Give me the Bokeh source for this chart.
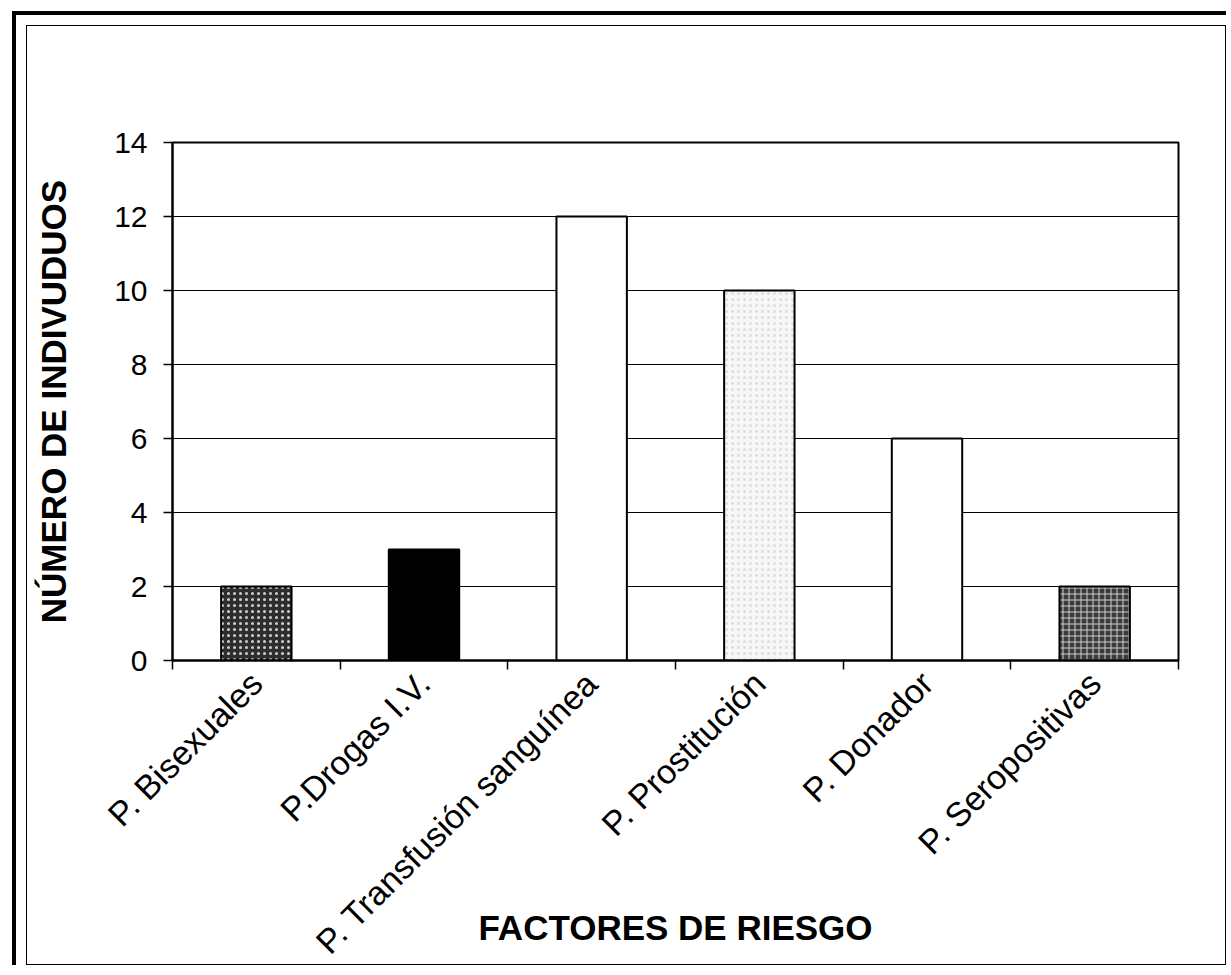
import math
from bokeh.plotting import figure
from bokeh.layouts import column
from bokeh.models import ColumnDataSource, FixedTicker, Range1d
from bokeh.embed import file_html
from bokeh.resources import INLINE

categories = ["P. Bisexuales", "P.Drogas I.V.", "P. Transfusión sanguínea",
              "P. Prostitución", "P. Donador", "P. Seropositivas"]
values = [2, 3, 12, 10, 6, 2]
fill_colors = ["#2e2e2e", "#000000", "#ffffff", "#f7f7f7", "#ffffff", "#3a3a3a"]
hatch_patterns = ["dot", " ", " ", "dot", " ", "cross"]
hatch_colors = ["#cfcfcf", "#000000", "#000000", "#dddddd", "#000000", "#cfcfcf"]
y_ticks = [0, 2, 4, 6, 8, 10, 12, 14]
x_title = "FACTORES DE RIESGO"
y_title = "NÚMERO DE INDIVUDUOS"

FONT = "Liberation Sans"

xs = [i + 0.5 for i in range(len(categories))]
source = ColumnDataSource(dict(x=xs, top=values, fill=fill_colors,
                               hatch=hatch_patterns, hcolor=hatch_colors))

p = figure(width=1198, height=938, output_backend="svg", toolbar_location=None,
           x_range=Range1d(0, len(categories)), y_range=Range1d(0, 14),
           min_border_left=145, min_border_right=47, min_border_top=116,
           min_border_bottom=304)
p.background_fill_color = "white"
p.border_fill_color = "white"
p.outline_line_color = "black"
p.outline_line_width = 2

p.vbar(x="x", top="top", bottom=0, width=0.42, source=source,
       fill_color="fill", line_color="black", line_width=2,
       hatch_pattern="hatch", hatch_color="hcolor", hatch_scale=6, hatch_weight=1)

# y axis
p.yaxis.ticker = FixedTicker(ticks=y_ticks)
p.yaxis.axis_line_width = 2
p.yaxis.axis_line_color = "black"
p.yaxis.major_tick_out = 9
p.yaxis.major_tick_in = 0
p.yaxis.major_tick_line_width = 1.5
p.yaxis.minor_tick_line_color = None
p.yaxis.major_label_text_font = FONT
p.yaxis.major_label_text_font_size = "30px"
p.yaxis.major_label_text_color = "black"
p.yaxis.major_label_standoff = 16
p.yaxis.axis_label = y_title
p.yaxis.axis_label_text_font = FONT
p.yaxis.axis_label_text_font_style = "bold"
p.yaxis.axis_label_text_font_size = "35px"
p.yaxis.axis_label_text_color = "black"
p.yaxis.axis_label_standoff = 38

# x axis: labels at category centres, ticks at category boundaries
p.xaxis.ticker = FixedTicker(ticks=xs, minor_ticks=list(range(len(categories) + 1)))
p.xaxis.major_label_overrides = {x: c for x, c in zip(xs, categories)}
p.xaxis.major_tick_line_color = None
p.xaxis.minor_tick_line_color = "black"
p.xaxis.minor_tick_line_width = 1.5
p.xaxis.minor_tick_out = 9
p.xaxis.minor_tick_in = 0
p.xaxis.axis_line_width = 2
p.xaxis.axis_line_color = "black"
p.xaxis.major_label_orientation = math.pi / 4
p.xaxis.major_label_text_font = FONT
p.xaxis.major_label_text_font_size = "34px"
p.xaxis.major_label_text_color = "black"
p.xaxis.major_label_standoff = 8
p.xaxis.axis_label = x_title
p.xaxis.axis_label_text_font = FONT
p.xaxis.axis_label_text_font_style = "bold"
p.xaxis.axis_label_text_font_size = "35px"
p.xaxis.axis_label_text_color = "black"
p.xaxis.axis_label_standoff = -69

p.xgrid.grid_line_color = None
p.ygrid.ticker = FixedTicker(ticks=y_ticks)
p.ygrid.grid_line_color = "black"
p.ygrid.grid_line_width = 1

# page borders: thin inner frame and thick outer top/left border
inner = column(p, styles={"border": "1px solid black"})
outer = column(inner, styles={"border-top": "4px solid black",
                              "border-left": "4px solid black",
                              "padding-top": "10px", "padding-left": "10px",
                              "margin-top": "11px", "margin-left": "12px"})

open("out.html", "w").write(file_html(outer, INLINE))
